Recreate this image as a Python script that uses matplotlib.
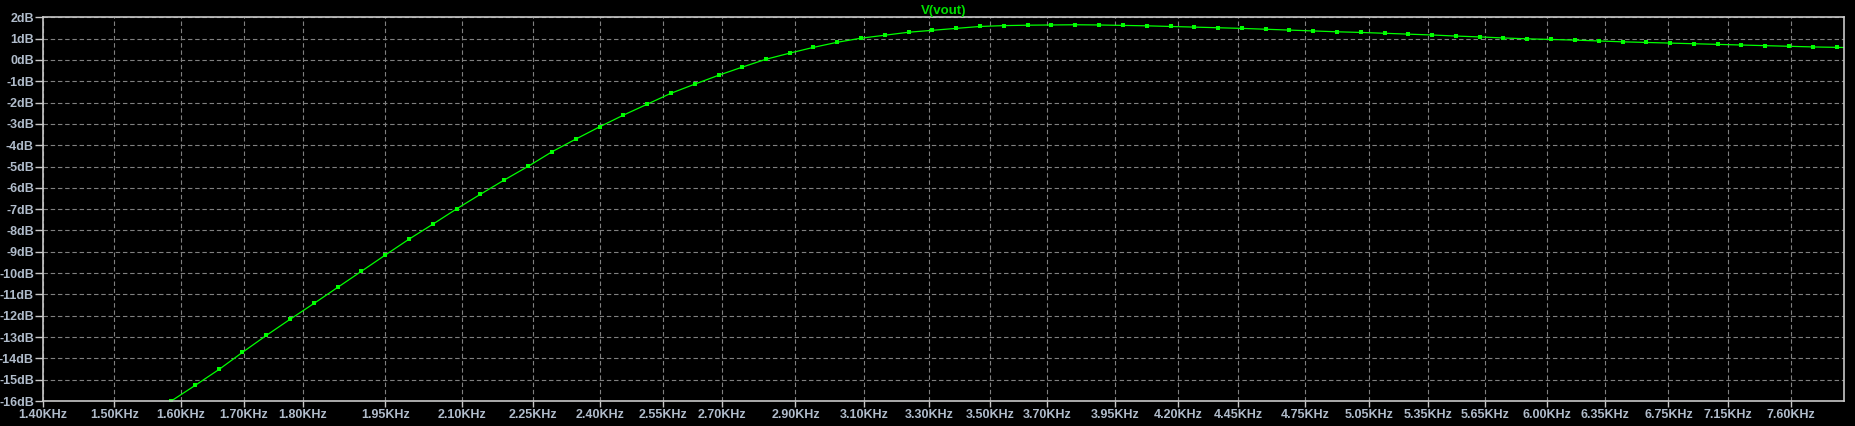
import matplotlib
matplotlib.use("Agg")
import matplotlib.pyplot as plt
from matplotlib.ticker import FixedLocator, FixedFormatter, NullLocator

# AC sweep points (Hz) and V(vout) magnitude (dB)
freq_hz = [
    1549, 1585, 1622, 1660, 1698, 1738, 1778, 1820, 1862, 1905,
    1950, 1995, 2042, 2089, 2138, 2188, 2239, 2291, 2344, 2399,
    2455, 2512, 2570, 2630, 2692, 2754, 2818, 2884, 2951, 3020,
    3090, 3162, 3236, 3311, 3388, 3467, 3548, 3631, 3715, 3802,
    3890, 3981, 4074, 4169, 4266, 4365, 4467, 4571, 4677, 4786,
    4898, 5012, 5129, 5248, 5370, 5495, 5623, 5754, 5888, 6026,
    6166, 6310, 6457, 6607, 6761, 6918, 7079, 7244, 7413, 7586,
    7762, 7943, 8128,
]
vout_db = [
    -16.75, -16.00, -15.27, -14.52, -13.72, -12.92, -12.17, -11.42, -10.67, -9.92,
    -9.15, -8.41, -7.70, -6.99, -6.30, -5.63, -4.99, -4.31, -3.72, -3.14,
    -2.59, -2.08, -1.57, -1.14, -0.72, -0.34, 0.03, 0.32, 0.59, 0.83,
    1.02, 1.16, 1.30, 1.39, 1.48, 1.57, 1.61, 1.63, 1.64, 1.65,
    1.64, 1.62, 1.60, 1.57, 1.54, 1.51, 1.48, 1.44, 1.40, 1.36,
    1.32, 1.29, 1.25, 1.21, 1.17, 1.12, 1.08, 1.03, 0.99, 0.96,
    0.93, 0.89, 0.85, 0.82, 0.79, 0.76, 0.73, 0.70, 0.67, 0.64,
    0.61, 0.59, 0.57,
]

x_ticks_khz = [1.40, 1.50, 1.60, 1.70, 1.80, 1.95, 2.10, 2.25, 2.40, 2.55,
               2.70, 2.90, 3.10, 3.30, 3.50, 3.70, 3.95, 4.20, 4.45, 4.75,
               5.05, 5.35, 5.65, 6.00, 6.35, 6.75, 7.15, 7.60]
y_ticks_db = list(range(-16, 3))

BG = "#000000"
FRAME = "#c8c8c8"
GRID = "#808080"
LABEL = "#b0bccb"
TRACE = "#00ff00"

plt.rcParams["font.family"] = ["Liberation Sans", "DejaVu Sans"]

fig = plt.figure(figsize=(18.55, 4.26), dpi=100, facecolor=BG)
ax = fig.add_axes([43 / 1855, 1 - 401 / 426, (1844 - 43) / 1855, (401 - 17.3) / 426])
ax.set_facecolor(BG)

ax.plot(freq_hz, vout_db, color=TRACE, lw=0.9, marker="s", ms=2.6, mew=0)

ax.set_xscale("log")
ax.set_xlim(1400, 8000)
ax.set_ylim(-16, 2)

ax.xaxis.set_major_locator(FixedLocator([v * 1000 for v in x_ticks_khz]))
ax.xaxis.set_major_formatter(FixedFormatter([f"{v:.2f}KHz" for v in x_ticks_khz]))
ax.xaxis.set_minor_locator(NullLocator())
ax.set_yticks(y_ticks_db)
ax.set_yticklabels([f"{v}dB" for v in y_ticks_db])

ax.grid(True, color=GRID, ls=(0, (4, 2.5)), lw=0.8)
for s in ax.spines.values():
    s.set_color(FRAME)
    s.set_linewidth(1.2)
ax.tick_params(axis="both", colors=FRAME, labelcolor=LABEL, labelsize=9, width=1)
ax.tick_params(axis="y", length=6, pad=0.5)
ax.tick_params(axis="x", length=4, pad=2)
for lab in ax.get_xticklabels() + ax.get_yticklabels():
    lab.set_fontweight("bold")

ax.set_title("V(vout)", color="#00e000", fontsize=9.5, fontweight="bold", pad=1.5)

fig.savefig("out.png", dpi=100, facecolor=BG)
